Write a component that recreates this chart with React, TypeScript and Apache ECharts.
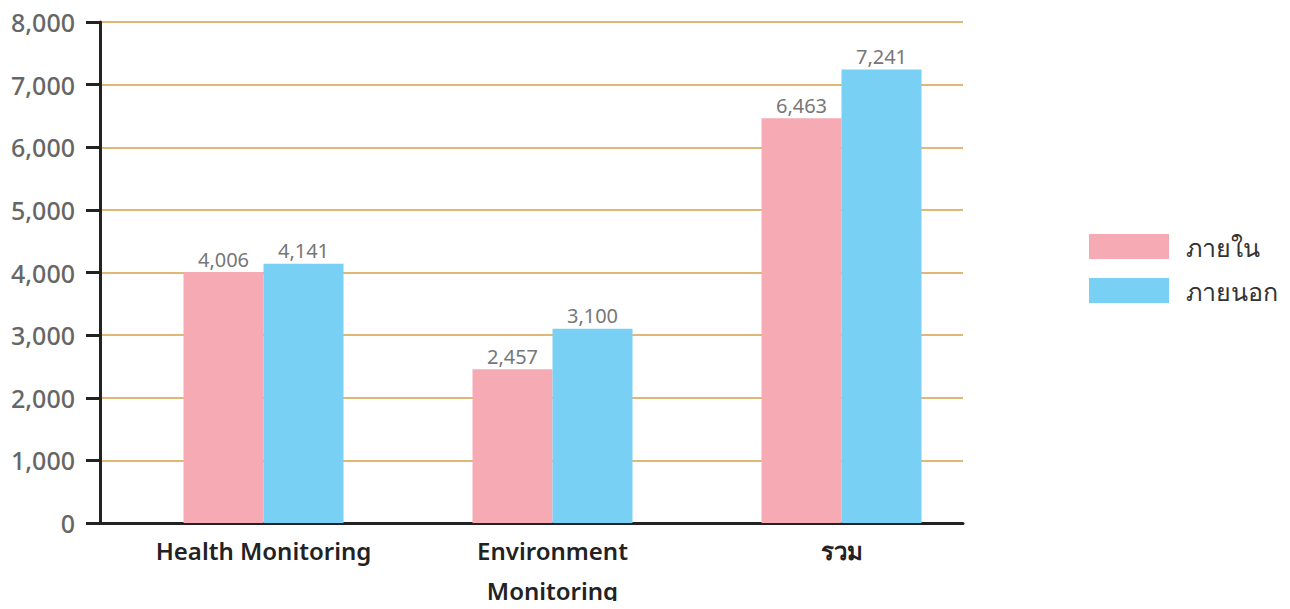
import React, { useEffect, useRef } from "react";
import * as echarts from "echarts";

const categories = ["Health Monitoring", "Environment\nMonitoring", "รวม"];
const seriesNames = ["ภายใน", "ภายนอก"];
const internalValues = [4006, 2457, 6463];
const externalValues = [4141, 3100, 7241];
const yTicks = { min: 0, max: 8000, interval: 1000 };

const FONT = "'Noto Sans', 'DejaVu Sans', sans-serif";
const PINK = "#F6AAB4";
const BLUE = "#78D0F4";

export default function App() {
  const ref = useRef<HTMLDivElement>(null);

  useEffect(() => {
    if (!ref.current) return;
    const chart = echarts.init(ref.current, null, { renderer: "svg" });
    const fmt = (v: number) => v.toLocaleString("en-US");
    const valueLabel = {
      show: true,
      position: "top",
      distance: 3,
      color: "#777",
      fontSize: 20,
      fontFamily: FONT,
      formatter: (p: any) => fmt(p.value),
    };
    chart.setOption({
      animation: false,
      legend: {
        orient: "vertical",
        left: 1089,
        top: 234,
        padding: 0,
        itemWidth: 80,
        itemHeight: 25,
        itemGap: 19,
        icon: "rect",
        textStyle: { fontSize: 25, color: "#333", fontFamily: FONT, padding: [0, 0, 0, 12] },
        data: seriesNames,
      },
      grid: [
        { left: 100, top: 22, width: 863, height: 501, outerBoundsMode: "none", containLabel: false },
        { left: 119, top: 22, width: 867, height: 501, outerBoundsMode: "none", containLabel: false },
      ],
      xAxis: [
        {
          gridIndex: 0,
          type: "category",
          data: categories,
          axisLine: { show: true, lineStyle: { color: "#222", width: 3 } },
          axisTick: { show: false },
          axisLabel: { show: false },
        },
        {
          gridIndex: 1,
          type: "category",
          data: categories,
          axisLine: { show: false },
          axisTick: { show: false },
          axisLabel: {
            color: "#222",
            fontSize: 24,
            fontWeight: 600,
            fontFamily: FONT,
            margin: 7,
            lineHeight: 40,
          },
        },
      ],
      yAxis: [
        {
          gridIndex: 0,
          type: "value",
          ...yTicks,
          axisLine: { show: true, lineStyle: { color: "#222", width: 3 } },
          axisTick: { show: true, length: 14, lineStyle: { color: "#222", width: 3 } },
          axisLabel: {
            color: "#666",
            fontSize: 25,
            fontWeight: 500,
            fontFamily: FONT,
            margin: 25,
            formatter: (v: number) => fmt(v),
          },
          splitLine: { show: true, lineStyle: { color: "#E2B676", width: 2 } },
        },
        {
          gridIndex: 1,
          type: "value",
          ...yTicks,
          show: false,
          splitLine: { show: false },
        },
      ],
      series: [
        {
          name: seriesNames[0],
          type: "bar",
          xAxisIndex: 1,
          yAxisIndex: 1,
          data: internalValues,
          barWidth: 80,
          barGap: "0%",
          itemStyle: { color: PINK },
          label: valueLabel,
        },
        {
          name: seriesNames[1],
          type: "bar",
          xAxisIndex: 1,
          yAxisIndex: 1,
          data: externalValues,
          barWidth: 80,
          barGap: "0%",
          itemStyle: { color: BLUE },
          label: valueLabel,
        },
      ],
    });
    return () => chart.dispose();
  }, []);

  return <div ref={ref} style={{ width: 1290, height: 609, margin: -8 }} />;
}
